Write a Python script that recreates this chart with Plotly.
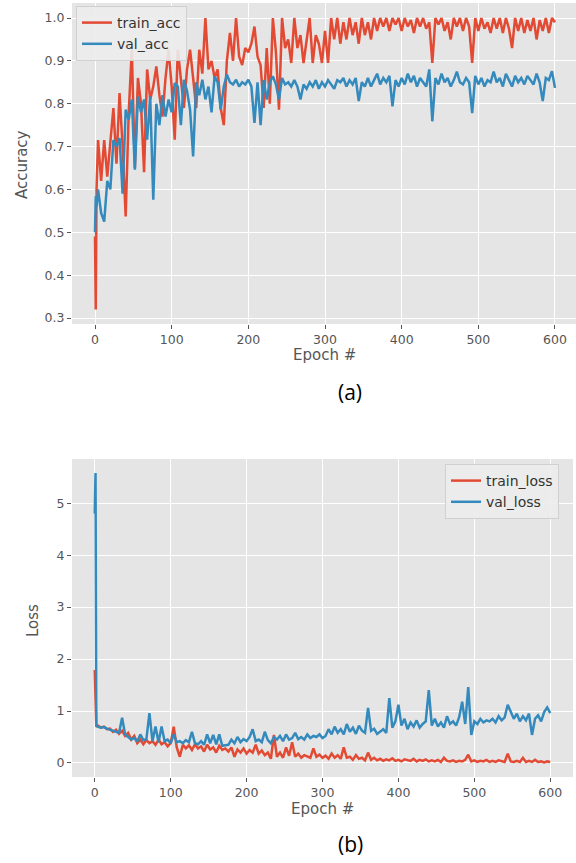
import plotly.graph_objects as go

# ---------------- data ----------------
epochs = [0, 1, 2] + list(range(4, 601, 4))

train_acc = [0.49, 0.32, 0.60,
    0.715, 0.62, 0.715, 0.63, 0.715, 0.79, 0.66, 0.825, 0.70, 0.537,
    0.78, 0.926, 0.65, 0.86, 0.80, 0.64, 0.88, 0.81, 0.84, 0.887,
    0.82, 0.77, 0.86, 0.926, 0.84, 0.716, 0.926, 0.85, 0.79, 0.88,
    0.926, 0.86, 0.79, 0.926, 0.87, 1.0, 0.88, 0.90, 0.86, 0.88,
    0.79, 0.75, 0.90, 0.965, 0.90, 1.0, 0.91, 0.89, 0.93, 0.92,
    0.94, 0.98, 0.91, 0.89, 0.79, 0.93, 0.80, 1.0, 0.92, 0.786,
    1.0, 0.93, 0.95, 0.895, 1.0, 0.93, 0.96, 0.895, 0.95, 1.0,
    0.895, 0.96, 0.94, 0.895, 0.97, 0.895, 1.0, 0.95, 1.0, 0.94,
    0.99, 0.95, 1.0, 0.96, 0.99, 0.94, 1.0, 0.96, 0.99, 0.95,
    1.0, 0.97, 1.0, 0.98, 1.0, 0.97, 1.0, 0.985, 1.0, 0.97,
    1.0, 0.98, 0.995, 0.965, 1.0, 0.98, 1.0, 0.975, 0.99, 0.895,
    1.0, 0.985, 1.0, 0.97, 0.99, 0.95, 1.0, 0.98, 1.0, 0.97,
    1.0, 0.98, 0.895, 1.0, 0.97, 1.0, 0.975, 0.99, 0.965, 1.0,
    0.975, 1.0, 0.965, 1.0, 0.975, 0.93, 1.0, 0.97, 1.0, 0.965,
    0.995, 0.97, 1.0, 0.95, 0.995, 0.97, 1.0, 0.965, 1.0, 0.99]

val_acc = [0.50, 0.584, 0.56,
    0.60, 0.545, 0.525, 0.62, 0.60, 0.715, 0.70, 0.72, 0.59, 0.786,
    0.763, 0.81, 0.646, 0.817, 0.78, 0.81, 0.716, 0.817, 0.576, 0.80,
    0.75, 0.82, 0.77, 0.81, 0.78, 0.848, 0.84, 0.75, 0.856, 0.83,
    0.786, 0.677, 0.85, 0.82, 0.856, 0.81, 0.84, 0.78, 0.864, 0.85,
    0.786, 0.84, 0.868, 0.85, 0.845, 0.856, 0.84, 0.85, 0.845, 0.856,
    0.84, 0.755, 0.85, 0.75, 0.855, 0.81, 0.85, 0.864, 0.845, 0.81,
    0.86, 0.845, 0.85, 0.84, 0.855, 0.84, 0.81, 0.845, 0.835, 0.85,
    0.84, 0.855, 0.835, 0.85, 0.84, 0.855, 0.845, 0.835, 0.855, 0.85,
    0.86, 0.84, 0.855, 0.845, 0.86, 0.806, 0.85, 0.84, 0.86, 0.84,
    0.855, 0.87, 0.845, 0.86, 0.85, 0.865, 0.794, 0.855, 0.84, 0.86,
    0.845, 0.87, 0.85, 0.865, 0.84, 0.86, 0.85, 0.84, 0.88, 0.759,
    0.86, 0.845, 0.87, 0.85, 0.86, 0.84, 0.855, 0.875, 0.85, 0.845,
    0.86, 0.85, 0.778, 0.865, 0.845, 0.86, 0.84, 0.855, 0.85, 0.875,
    0.85, 0.86, 0.84, 0.87, 0.855, 0.84, 0.865, 0.85, 0.86, 0.845,
    0.865, 0.855, 0.845, 0.87, 0.85, 0.806, 0.86, 0.855, 0.876, 0.837]

train_loss = [1.79, 0.80, 0.70,
    0.72, 0.68, 0.70, 0.65, 0.66, 0.60, 0.64, 0.56, 0.62, 0.52,
    0.58, 0.45, 0.52, 0.38, 0.45, 0.36, 0.44, 0.38, 0.42, 0.35,
    0.45, 0.36, 0.40, 0.32, 0.38, 0.70, 0.30, 0.12, 0.35, 0.28,
    0.34, 0.25, 0.36, 0.28, 0.32, 0.22, 0.35, 0.26, 0.30, 0.20,
    0.33, 0.25, 0.28, 0.22, 0.30, 0.12, 0.26, 0.20, 0.28, 0.18,
    0.25, 0.20, 0.35, 0.18, 0.24, 0.15, 0.20, 0.08, 0.54, 0.12,
    0.20, 0.10, 0.30, 0.14, 0.40, 0.12, 0.18, 0.10, 0.15, 0.12,
    0.10, 0.28, 0.12, 0.16, 0.10, 0.14, 0.08, 0.18, 0.10, 0.15,
    0.08, 0.30, 0.10, 0.12, 0.06, 0.15, 0.08, 0.10, 0.05, 0.20,
    0.06, 0.10, 0.05, 0.08, 0.04, 0.07, 0.05, 0.09, 0.04, 0.06,
    0.03, 0.07, 0.05, 0.04, 0.08, 0.03, 0.06, 0.04, 0.07, 0.03,
    0.05, 0.03, 0.06, 0.02, 0.10, 0.04, 0.03, 0.05, 0.02, 0.04,
    0.03, 0.06, 0.16, 0.03, 0.05, 0.02, 0.04, 0.03, 0.06, 0.02,
    0.04, 0.02, 0.05, 0.03, 0.02, 0.18, 0.03, 0.02, 0.04, 0.02,
    0.10, 0.02, 0.04, 0.02, 0.06, 0.02, 0.03, 0.01, 0.03, 0.02]

val_loss = [4.80, 5.58, 0.72,
    0.70, 0.68, 0.69, 0.66, 0.64, 0.62, 0.60, 0.58, 0.87, 0.55,
    0.50, 0.45, 0.48, 0.42, 0.55, 0.44, 0.46, 0.96, 0.42, 0.70,
    0.40, 0.70, 0.42, 0.45, 0.38, 0.55, 0.40, 0.42, 0.38, 0.44,
    0.40, 0.60, 0.38, 0.36, 0.42, 0.35, 0.55, 0.38, 0.54, 0.36,
    0.55, 0.33, 0.34, 0.35, 0.45, 0.38, 0.50, 0.40, 0.46, 0.42,
    0.50, 0.65, 0.42, 0.45, 0.40, 0.60, 0.44, 0.38, 0.50, 0.45,
    0.52, 0.42, 0.55, 0.45, 0.48, 0.58, 0.46, 0.50, 0.45, 0.55,
    0.48, 0.52, 0.50, 0.55, 0.48, 0.52, 0.65, 0.55, 0.70, 0.58,
    0.65, 0.55, 0.75, 0.60, 0.68, 0.56, 0.72, 0.62, 0.58, 1.06,
    0.62, 0.66, 0.56, 0.60, 0.65, 0.58, 1.25, 0.68, 0.80, 1.12,
    0.72, 0.85, 0.65, 0.78, 0.70, 0.82, 0.68, 0.75, 0.80, 1.40,
    0.72, 0.85, 0.70, 0.78, 0.68, 0.90, 0.75, 0.80, 0.72, 0.88,
    1.18, 0.75, 1.46, 0.54, 0.80, 0.75, 0.85, 0.78, 0.82, 0.80,
    0.85, 0.78, 0.90, 0.82, 0.88, 1.12, 1.00, 0.85, 0.95, 0.80,
    0.90, 0.82, 0.95, 0.54, 0.85, 0.92, 0.80, 0.98, 1.07, 0.96]

x_ticks = [0, 100, 200, 300, 400, 500, 600]
acc_ticks = [0.3, 0.4, 0.5, 0.6, 0.7, 0.8, 0.9, 1.0]
loss_ticks = [0, 1, 2, 3, 4, 5]

# ---------------- figure ----------------
W, H = 576, 863
RED = "#E24A33"
BLUE = "#348ABD"
GRAY = "#555555"
LW = 2.5

def px(v):
    return v / W

def py(v):
    return 1 - v / H

fig = go.Figure()
fig.add_trace(go.Scatter(x=epochs, y=train_acc, mode="lines", name="train_acc",
                         line=dict(color=RED, width=LW), xaxis="x", yaxis="y", legend="legend"))
fig.add_trace(go.Scatter(x=epochs, y=val_acc, mode="lines", name="val_acc",
                         line=dict(color=BLUE, width=LW), xaxis="x", yaxis="y", legend="legend"))
fig.add_trace(go.Scatter(x=epochs, y=train_loss, mode="lines", name="train_loss",
                         line=dict(color=RED, width=LW), xaxis="x2", yaxis="y2", legend="legend2"))
fig.add_trace(go.Scatter(x=epochs, y=val_loss, mode="lines", name="val_loss",
                         line=dict(color=BLUE, width=LW), xaxis="x2", yaxis="y2", legend="legend2"))

tick_font = dict(family="DejaVu Sans", size=12.5, color=GRAY)
axis_common = dict(showgrid=True, gridcolor="white", gridwidth=1.3, zeroline=False,
                   showline=False, ticks="outside", ticklen=4, tickwidth=1,
                   tickcolor=GRAY, tickfont=tick_font)

fig.update_layout(
    width=W, height=H,
    margin=dict(l=0, r=0, t=0, b=0),
    paper_bgcolor="white",
    plot_bgcolor="#E5E5E5",
    xaxis=dict(domain=[px(72), 1.0], range=[-30, 627.4], anchor="y",
               tickvals=x_ticks, **axis_common),
    yaxis=dict(domain=[py(324), py(3)], range=[0.286, 1.035], anchor="x",
               tickvals=acc_ticks, tickformat=".1f", **axis_common),
    xaxis2=dict(domain=[px(72), px(573)], range=[-30, 630], anchor="y2",
                tickvals=x_ticks, **axis_common),
    yaxis2=dict(domain=[py(777), py(459)], range=[-0.27, 5.85], anchor="x2",
                tickvals=loss_ticks, **axis_common),
    legend=dict(x=px(76), y=py(6), xanchor="left", yanchor="top",
                bgcolor="rgba(236,236,236,0.9)", bordercolor="#D0D0D0", borderwidth=1,
                font=dict(family="DejaVu Sans", size=14, color="#333333"),
                itemwidth=30, tracegroupgap=0),
    legend2=dict(x=px(559), y=py(464), xanchor="right", yanchor="top",
                 bgcolor="rgba(236,236,236,0.9)", bordercolor="#D0D0D0", borderwidth=1,
                 font=dict(family="DejaVu Sans", size=14, color="#333333"),
                 itemwidth=30, tracegroupgap=0),
    showlegend=True,
)

label_font = dict(family="DejaVu Sans", size=15, color=GRAY)
cap_font = dict(family="Open Sans", size=21, color="black")
annots = [
    dict(text="Accuracy", x=px(22), y=py(165), textangle=-90, font=label_font),
    dict(text="Epoch #", x=px(324), y=py(355), font=label_font),
    dict(text="(a)", x=px(350), y=py(392), font=cap_font),
    dict(text="Loss", x=px(33), y=py(621), textangle=-90, font=label_font),
    dict(text="Epoch #", x=px(322), y=py(809), font=label_font),
    dict(text="(b)", x=px(350), y=py(844), font=cap_font),
]
for a in annots:
    fig.add_annotation(xref="paper", yref="paper", showarrow=False,
                       xanchor="center", yanchor="middle", **a)

fig.write_html("out.html", config={"displayModeBar": False})
